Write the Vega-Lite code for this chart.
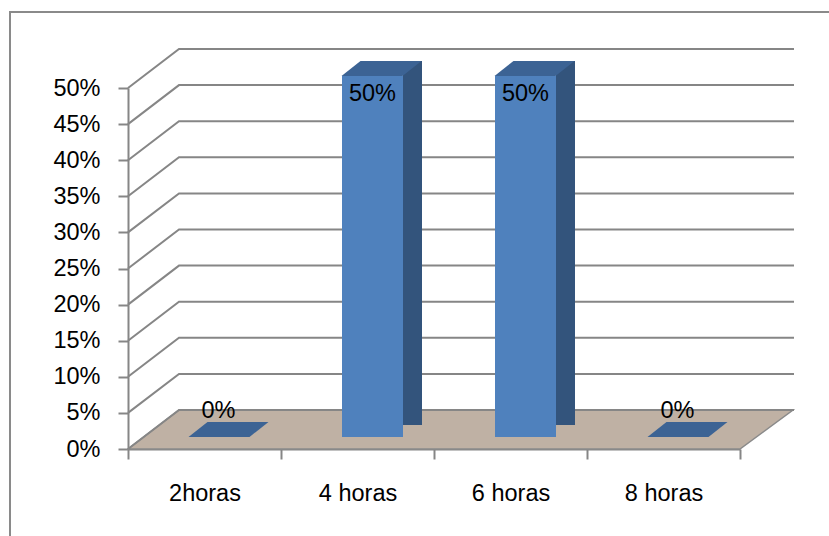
{
  "$schema": "https://vega.github.io/schema/vega-lite/v6.json",
  "width": 612,
  "height": 361,
  "autosize": {"type": "none"},
  "padding": {"left": 128, "top": 88, "right": 89, "bottom": 87},
  "background": "white",
  "config": {
    "view": {"stroke": null},
    "font": "Liberation Sans",
    "axisY": {
      "title": null, "grid": false, "tickSize": 10, "tickColor": "#868686", "tickWidth": 2,
      "domainColor": "#868686", "domainWidth": 2, "labelFontSize": 23.5, "labelColor": "#000000",
      "labelPadding": 18, "labelFont": "Liberation Sans", "labelOverlap": false, "labelBound": false, "zindex": 1
    },
    "axisX": {
      "title": null, "labelAngle": 0, "tickBand": "extent", "bandPosition": 0.5, "labelAlign": "center",
      "tickSize": 10, "tickColor": "#868686", "tickWidth": 2, "domainColor": "#868686", "domainWidth": 2,
      "labelFontSize": 23.5, "labelColor": "#000000", "labelPadding": 22, "labelFont": "Liberation Sans", "zindex": 1
    }
  },
  "datasets": {
    "bars": [
      {"horas": "2horas", "value": 0},
      {"horas": "4 horas", "value": 0.5},
      {"horas": "6 horas", "value": 0.5},
      {"horas": "8 horas", "value": 0}
    ],
    "ticks": [
      {"t": 0}, {"t": 0.05}, {"t": 0.1}, {"t": 0.15}, {"t": 0.2}, {"t": 0.25},
      {"t": 0.3}, {"t": 0.35}, {"t": 0.4}, {"t": 0.45}, {"t": 0.5}
    ]
  },
  "layer": [
    {
      "data": {"name": "ticks"},
      "transform": [{"filter": "datum.t == 0"}],
      "mark": {"type": "point", "shape": "M-424,300L-424,-437L600,-437", "size": 4, "filled": false, "color": "#8a8a8a", "strokeWidth": 2, "opacity": 1},
      "encoding": {
        "y": {
          "field": "t", "type": "quantitative", "scale": {"domain": [0, 0.5], "nice": false},
          "axis": {"title": null, "format": ".0%", "values": [0, 0.05, 0.1, 0.15, 0.2, 0.25, 0.3, 0.35, 0.4, 0.45, 0.5], "labelOverlap": false}
        }
      }
    },
    {
      "data": {"name": "ticks"},
      "transform": [{"filter": "datum.t == 0"}],
      "mark": {"type": "point", "shape": "M-306,0L306,0L359,-39L-255,-39Z", "size": 4, "filled": true, "color": "#BFB1A4", "stroke": "#8a8a8a", "strokeWidth": 1.5, "opacity": 1},
      "encoding": {
        "y": {"field": "t", "type": "quantitative", "axis": {"title": null, "format": ".0%", "values": [0, 0.05, 0.1, 0.15, 0.2, 0.25, 0.3, 0.35, 0.4, 0.45, 0.5], "labelOverlap": false}}
      }
    },
    {
      "data": {"name": "ticks"},
      "mark": {"type": "point", "shape": "M-306,0L-255,-39L360,-39", "size": 4, "filled": false, "color": "#868686", "strokeWidth": 2, "opacity": 1},
      "encoding": {
        "y": {"field": "t", "type": "quantitative", "axis": {"title": null, "format": ".0%", "values": [0, 0.05, 0.1, 0.15, 0.2, 0.25, 0.3, 0.35, 0.4, 0.45, 0.5], "labelOverlap": false}}
      }
    },
    {
      "data": {"name": "bars"},
      "mark": {"type": "bar", "width": 61, "xOffset": 15, "yOffset": -12, "y2Offset": -12, "color": "#4F81BD"},
      "encoding": {
        "x": {
          "field": "horas", "type": "nominal",
          "sort": ["2horas", "4 horas", "6 horas", "8 horas"],
          "scale": {"domain": ["2horas", "4 horas", "6 horas", "8 horas"], "paddingInner": 0, "paddingOuter": 0},
          "axis": {"title": null}
        },
        "y": {"field": "value", "type": "quantitative", "axis": {"title": null, "format": ".0%", "values": [0, 0.05, 0.1, 0.15, 0.2, 0.25, 0.3, 0.35, 0.4, 0.45, 0.5], "labelOverlap": false}},
        "y2": {"datum": 0}
      }
    },
    {
      "data": {"name": "bars"},
      "transform": [{"filter": "datum.value > 0"}],
      "mark": {"type": "bar", "width": 19, "xOffset": 55, "yOffset": -27, "y2Offset": -24, "color": "#33547C"},
      "encoding": {
        "x": {"field": "horas", "type": "nominal", "sort": ["2horas", "4 horas", "6 horas", "8 horas"], "axis": {"title": null}},
        "y": {"field": "value", "type": "quantitative", "axis": {"title": null, "format": ".0%", "values": [0, 0.05, 0.1, 0.15, 0.2, 0.25, 0.3, 0.35, 0.4, 0.45, 0.5], "labelOverlap": false}},
        "y2": {"datum": 0}
      }
    },
    {
      "data": {"name": "bars"},
      "mark": {"type": "point", "shape": "M-16,0L45,0L64,-15L3,-15Z", "size": 4, "filled": true, "color": "#3C6394", "opacity": 1, "strokeWidth": 0, "yOffset": -12},
      "encoding": {
        "x": {"field": "horas", "type": "nominal", "sort": ["2horas", "4 horas", "6 horas", "8 horas"], "axis": {"title": null}},
        "y": {"field": "value", "type": "quantitative", "axis": {"title": null, "format": ".0%", "values": [0, 0.05, 0.1, 0.15, 0.2, 0.25, 0.3, 0.35, 0.4, 0.45, 0.5], "labelOverlap": false}}
      }
    },
    {
      "data": {"name": "bars"},
      "transform": [{"filter": "datum.value > 0"}],
      "mark": {"type": "text", "fontSize": 23.5, "font": "Liberation Sans", "color": "#000000", "baseline": "middle", "dx": 15, "dy": 6},
      "encoding": {
        "x": {"field": "horas", "type": "nominal", "sort": ["2horas", "4 horas", "6 horas", "8 horas"], "axis": {"title": null}},
        "y": {"field": "value", "type": "quantitative", "axis": {"title": null, "format": ".0%", "values": [0, 0.05, 0.1, 0.15, 0.2, 0.25, 0.3, 0.35, 0.4, 0.45, 0.5], "labelOverlap": false}},
        "text": {"field": "value", "type": "quantitative", "format": ".0%"}
      }
    },
    {
      "data": {"name": "bars"},
      "transform": [{"filter": "datum.value == 0"}],
      "mark": {"type": "text", "fontSize": 23.5, "font": "Liberation Sans", "color": "#000000", "baseline": "middle", "dx": 14, "dy": -38},
      "encoding": {
        "x": {"field": "horas", "type": "nominal", "sort": ["2horas", "4 horas", "6 horas", "8 horas"], "axis": {"title": null}},
        "y": {"field": "value", "type": "quantitative", "axis": {"title": null, "format": ".0%", "values": [0, 0.05, 0.1, 0.15, 0.2, 0.25, 0.3, 0.35, 0.4, 0.45, 0.5], "labelOverlap": false}},
        "text": {"field": "value", "type": "quantitative", "format": ".0%"}
      }
    }
  ]
}
